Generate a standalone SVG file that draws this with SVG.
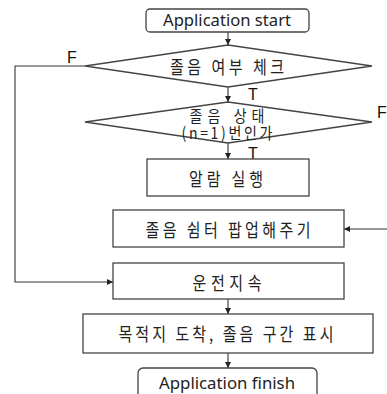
<svg xmlns="http://www.w3.org/2000/svg" width="387" height="394" viewBox="0 0 387 394">
<style>
.box{fill:#fff;stroke:#444;stroke-width:1.3}
.t{font-family:"Noto Sans CJK KR","Noto Sans",sans-serif;font-size:15px;fill:#222;text-anchor:middle;dominant-baseline:central}
.t2{font-family:"Noto Sans CJK KR","Noto Sans",sans-serif;font-size:14px;fill:#222;text-anchor:middle;dominant-baseline:central}
.en{font-family:"Noto Sans","Noto Sans CJK KR",sans-serif;font-size:14px;fill:#222;text-anchor:middle;dominant-baseline:central}
.lbl{font-family:"Liberation Sans",Arial,sans-serif;font-size:16px;fill:#111;text-anchor:middle;dominant-baseline:central}
.ln{fill:none;stroke:#333;stroke-width:1.1}
</style>
<defs>
<marker id="ah" markerWidth="6" markerHeight="6" refX="6" refY="3" orient="auto" markerUnits="userSpaceOnUse">
<path d="M0,0 L6,3 L0,6 Z" fill="#222"/>
</marker>
</defs>
<rect width="387" height="394" fill="#fff"/>
<g id="connectors">
<path class="ln" d="M228,32 V45" marker-end="url(#ah)"/>
<path class="ln" d="M228,87 V102" marker-end="url(#ah)"/>
<path class="ln" d="M228,143 V159" marker-end="url(#ah)"/>
<path class="ln" d="M85,66 H15 V282 H113" marker-end="url(#ah)"/>
<path class="ln" d="M387,229 H344" marker-end="url(#ah)"/>
<path class="ln" d="M228,299 V314" marker-end="url(#ah)"/>
<path class="ln" d="M228,353 V368" marker-end="url(#ah)"/>
<text class="lbl" x="72" y="57">F</text>
<text class="lbl" x="253" y="94">T</text>
<text class="lbl" x="382" y="112">F</text>
<text class="lbl" x="253" y="153">T</text>
</g>
<g id="start">
<rect class="box" x="146" y="9" width="163" height="23" rx="4"/>
<text class="en" transform="translate(227,20) scale(1,1.15)" textLength="128" lengthAdjust="spacingAndGlyphs">Application start</text>
</g>
<g id="check">
<polygon class="box" points="228,45 372,66 228,87 85,66"/>
<text class="t" transform="translate(227,66) scale(1,1.25)" textLength="114" lengthAdjust="spacing">졸음 여부 체크</text>
</g>
<g id="state">
<polygon class="box" points="228,102 372,122 228,143 85,122"/>
<text class="t2" transform="translate(227,115) scale(1,1.15)"><tspan x="0" y="0" textLength="75" lengthAdjust="spacing">졸음 상태</tspan><tspan x="0" y="14.8" textLength="91" lengthAdjust="spacing">(n=1)번인가</tspan></text>
</g>
<g id="alarm">
<rect class="box" x="147" y="159" width="162" height="37"/>
<text class="t" transform="translate(226,178) scale(1,1.25)" textLength="74" lengthAdjust="spacing">알람 실행</text>
</g>
<g id="rest">
<rect class="box" x="113" y="210" width="231" height="37"/>
<text class="t" transform="translate(228,229) scale(1,1.25)" textLength="165" lengthAdjust="spacing">졸음 쉼터 팝업해주기</text>
</g>
<g id="drive">
<rect class="box" x="113" y="263" width="231" height="36"/>
<text class="t" transform="translate(227,282) scale(1,1.25)" textLength="69" lengthAdjust="spacing">운전지속</text>
</g>
<g id="arrive">
<rect class="box" x="83" y="314" width="290" height="39"/>
<text class="t" transform="translate(226,333) scale(1,1.25)" textLength="215" lengthAdjust="spacing">목적지 도착, 졸음 구간 표시</text>
</g>
<g id="finish">
<rect class="box" x="138" y="368" width="179" height="36" rx="5"/>
<text class="en" transform="translate(227,383) scale(1,1.15)" textLength="136" lengthAdjust="spacingAndGlyphs">Application finish</text>
</g>
</svg>
